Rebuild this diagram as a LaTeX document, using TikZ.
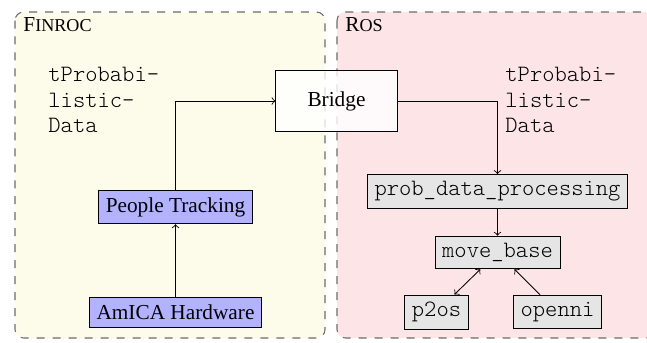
\documentclass[tikz,border=0pt]{standalone}
\usepackage{fontspec}
\setmainfont{Liberation Serif}
\setmonofont[Scale=1.1]{Latin Modern Mono Light}
\usetikzlibrary{positioning}

\definecolor{finrocbg}{RGB}{253,251,234}
\definecolor{rosbg}{RGB}{253,229,231}
\newcommand{\fakesc}[2]{#1{\fontsize{8.5}{9}\selectfont #2}}

\begin{document}
\begin{tikzpicture}[x=0.4695pt, y=-0.4695pt,
	panel/.style = {draw=gray!85!black, line width=0.5pt, dash pattern=on 3.75pt off 3.75pt, rounded corners=4pt},
	finrocnode/.style = {draw, fill=blue!30},
	rosnode/.style = {draw, fill=gray!20, font=\ttfamily},
	porttype/.style = {align=left, font=\ttfamily, anchor=north west, inner sep=0pt}]
	\useasboundingbox (0,0) rectangle (647,342);
	% the two frameworks
	\draw[panel, fill=finrocbg] (15,12) rectangle (325,338);
	\draw[panel, fill=rosbg] (337,12) rectangle (660,338);
	\node[anchor=base west, inner sep=0pt] (finroc) at (23,31) {\fakesc{F}{INROC}};
	\node[anchor=base west, inner sep=0pt] (ros) at (345,31) {\fakesc{R}{OS}};
	\node[porttype] (typeleft) at (48,67) {tProbabi-\\listic-\\Data};
	\node[porttype] (typeright) at (505,67) {tProbabi-\\listic-\\Data};
	% nodes
	\node[draw, fill=white, fill opacity=0.8, text opacity=1, minimum width=2cm, minimum height=1cm] (bridge) at (336.5,101) {Bridge};
	\node[finrocnode] (people) at (175.5,207) {People Tracking};
	\node[finrocnode] (amica) at (175.5,312.5) {AmICA Hardware};
	\node[rosnode] (prob) at (497.5,191.5) {prob\_data\_processing};
	\node[rosnode] (move) at (497.5,252.5) {move\_base};
	\node[rosnode] (p2os) at (436.5,312) {p2os};
	\node[rosnode] (openni) at (557.5,312) {openni};
	% connections
	\draw[->] (amica) -- (people);
	\draw[->] (people) |- (bridge);
	\draw[->] (bridge) -| (prob);
	\draw[->] (prob) -- (move);
	\draw[<->] (move) -- (p2os);
	\draw[->] (openni) -- (move);
\end{tikzpicture}
\end{document}
